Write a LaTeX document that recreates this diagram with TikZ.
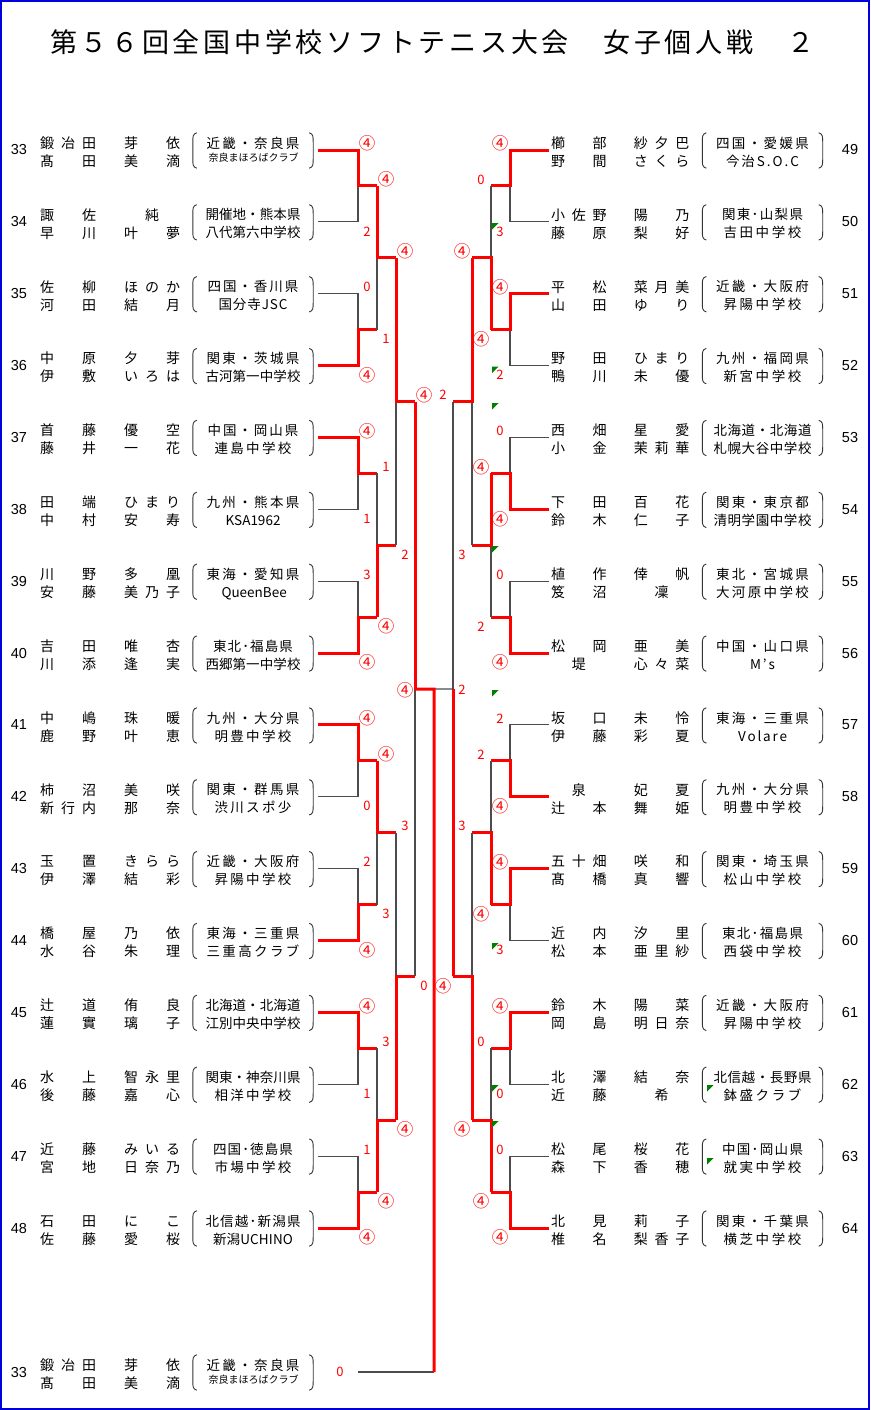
\documentclass[tikz,border=0pt]{standalone}
\usepackage{fontspec}
\setmainfont{Noto Sans CJK JP}
\newfontfamily\lat{Liberation Sans}
\usetikzlibrary{calc}
\newlength\cw
\def\cellsaux#1{\ifx\relax#1\else\ifx*#1\hbox to\cw{}\else\hbox to\cw{\hss#1\hss}\fi\expandafter\cellsaux\fi}
\newcommand\cellsL[1]{\setlength\cw{21pt}\cellsaux#1\relax}
\newcommand\cellsR[1]{\setlength\cw{20.7pt}\cellsaux#1\relax}
\def\Daux#1{\ifx\relax#1\else#1\expandafter\Dnext\fi}
\def\Dnext#1{\ifx\relax#1\else\hfil#1\expandafter\Dnext\fi}
\newcommand\D[2]{\makebox[#1pt][s]{\Daux#2\relax}}
\newcommand\four{{\fontsize{16.5}{16.5}\selectfont ④}}
\def\dxl{9}
\def\dxr{-10}
\newcommand\entryL[7]{%
  \node[num] (numL#1) at (19,#2) {#3};
  \node[nm] (nmL#1a) at (36.5,#2-1.7) {\cellsL{#4}};
  \node[nm] (nmL#1b) at (36.5,#2+16.3) {\cellsL{#5}};
  \node[affbox] (afL#1) at (253,#2+0.5) {};
  \node[af] (afL#1a) at (253,#2-1.9) {#6};
  \node[af] (afL#1b) at (253,#2+16.1) {#7};
  \draw[paren] ([xshift=4pt]afL#1.north west) .. controls ([yshift=-1pt]afL#1.north west) and ([yshift=-4pt]afL#1.north west) .. ([yshift=-9pt]afL#1.north west) -- ([yshift=9pt]afL#1.south west) .. controls ([yshift=4pt]afL#1.south west) and ([yshift=1pt]afL#1.south west) .. ([xshift=4pt]afL#1.south west);
  \draw[paren] ([xshift=-4pt]afL#1.north east) .. controls ([yshift=-1pt]afL#1.north east) and ([yshift=-4pt]afL#1.north east) .. ([yshift=-9pt]afL#1.north east) -- ([yshift=9pt]afL#1.south east) .. controls ([yshift=4pt]afL#1.south east) and ([yshift=1pt]afL#1.south east) .. ([xshift=-4pt]afL#1.south east);
}
\newcommand\entryR[7]{%
  \node[num] (numR#1) at (850,#2) {#3};
  \node[nm] (nmR#1a) at (547.6,#2-1.7) {\cellsR{#4}};
  \node[nm] (nmR#1b) at (547.6,#2+16.3) {\cellsR{#5}};
  \node[affbox] (afR#1) at (762.5,#2+0.5) {};
  \node[af] (afR#1a) at (762.5,#2-1.9) {#6};
  \node[af] (afR#1b) at (762.5,#2+16.1) {#7};
  \draw[paren] ([xshift=4pt]afR#1.north west) .. controls ([yshift=-1pt]afR#1.north west) and ([yshift=-4pt]afR#1.north west) .. ([yshift=-9pt]afR#1.north west) -- ([yshift=9pt]afR#1.south west) .. controls ([yshift=4pt]afR#1.south west) and ([yshift=1pt]afR#1.south west) .. ([xshift=4pt]afR#1.south west);
  \draw[paren] ([xshift=-4pt]afR#1.north east) .. controls ([yshift=-1pt]afR#1.north east) and ([yshift=-4pt]afR#1.north east) .. ([yshift=-9pt]afR#1.north east) -- ([yshift=9pt]afR#1.south east) .. controls ([yshift=4pt]afR#1.south east) and ([yshift=1pt]afR#1.south east) .. ([xshift=-4pt]afR#1.south east);
}
\newcommand\bmatch[6]{%
  \pgfmathtruncatemacro\prv{#2-1}%
  \pgfmathtruncatemacro\bmA{2*#3-1}%
  \pgfmathtruncatemacro\bmB{2*#3}%
  \ifnum#4=1\relax
    \draw[lose] (#1\prv o\bmB) -| (#1#2j#3);
    \draw[win] (#1\prv o\bmA) -| (#1#2j#3) -- (#1#2o#3);
  \else
    \draw[lose] (#1\prv o\bmA) -| (#1#2j#3);
    \draw[win] (#1\prv o\bmB) -| (#1#2j#3) -- (#1#2o#3);
  \fi
  \node[score] (s#1#2m#3a) at ($(#1\prv o\bmA -| #1#2j#3)+(\csname dx#1\endcsname,-6.5)$) {#5};
  \node[score] (s#1#2m#3b) at ($(#1\prv o\bmB -| #1#2j#3)+(\csname dx#1\endcsname,9.5)$) {#6};
}
\begin{document}
\begin{tikzpicture}[x=1pt,y=-1pt,
  win/.style={draw=red, line width=3pt},
  lose/.style={draw=black!70, line width=1.1pt},
  score/.style={text=red, inner sep=0pt, font=\fontsize{13}{13}\selectfont},
  num/.style={inner sep=0pt, font=\lat\fontsize{14.5}{14.5}\selectfont},
  nm/.style={inner sep=0pt, anchor=base west, font=\fontsize{14}{14}\selectfont},
  af/.style={inner sep=0pt, anchor=base, font=\fontsize{13.5}{13.5}\selectfont},
  affbox/.style={inner sep=0pt, minimum width=120pt, minimum height=35pt},
  paren/.style={draw=black!80, line width=0.9pt},
  flag/.style={fill={rgb,255:red,0;green,128;blue,0}}]
\useasboundingbox (0,0) rectangle (870,1410);
\fill[white] (0,0) rectangle (870,1410);
\draw[draw={rgb,255:red,0;green,0;blue,220}, line width=2pt] (1,1) rectangle (869,1409);

\node[anchor=base, inner sep=0pt, font=\fontsize{27}{27}\selectfont] (title) at (432.5,52.5) {\D{765}{第５６回全国中学校ソフトテニス大会　女子個人戦　２}};

% bracket coordinates
\foreach \ii in {1,...,16}{
  \pgfmathsetmacro\yy{150+71.867*(\ii-1)}
  \coordinate (l0o\ii) at (318,\yy);
  \coordinate (r0o\ii) at (549,\yy);
}
\foreach \rr in {1,2,3,4}{
  \pgfmathtruncatemacro\nmatch{16/2^\rr}
  \foreach \mm in {1,...,\nmatch}{
    \pgfmathsetmacro\yy{150+71.867*((\mm-1)*2^\rr+(2^\rr-1)/2)}
    \pgfmathsetmacro\xl{358+19*(\rr-1)}
    \pgfmathsetmacro\xr{510-19*(\rr-1)}
    \coordinate (l\rr j\mm) at (\xl,\yy);
    \coordinate (l\rr o\mm) at (\xl+19,\yy);
    \coordinate (r\rr j\mm) at (\xr,\yy);
    \coordinate (r\rr o\mm) at (\xr-19,\yy);
  }
}

% left bracket
\bmatch{l}{1}{1}{1}{\four}{2}
\bmatch{l}{1}{2}{2}{0}{\four}
\bmatch{l}{1}{3}{1}{\four}{1}
\bmatch{l}{1}{4}{2}{3}{\four}
\bmatch{l}{1}{5}{1}{\four}{0}
\bmatch{l}{1}{6}{2}{2}{\four}
\bmatch{l}{1}{7}{1}{\four}{1}
\bmatch{l}{1}{8}{2}{1}{\four}
\bmatch{l}{2}{1}{1}{\four}{1}
\bmatch{l}{2}{2}{2}{1}{\four}
\bmatch{l}{2}{3}{1}{\four}{3}
\bmatch{l}{2}{4}{2}{3}{\four}
\bmatch{l}{3}{1}{1}{\four}{2}
\bmatch{l}{3}{2}{2}{3}{\four}
% right bracket
\bmatch{r}{1}{1}{1}{\four}{3}
\bmatch{r}{1}{2}{1}{\four}{2}
\bmatch{r}{1}{3}{2}{0}{\four}
\bmatch{r}{1}{4}{2}{0}{\four}
\bmatch{r}{1}{5}{2}{2}{\four}
\bmatch{r}{1}{6}{1}{\four}{3}
\bmatch{r}{1}{7}{1}{\four}{0}
\bmatch{r}{1}{8}{2}{0}{\four}
\bmatch{r}{2}{1}{2}{0}{\four}
\bmatch{r}{2}{2}{1}{\four}{2}
\bmatch{r}{2}{3}{2}{2}{\four}
\bmatch{r}{2}{4}{2}{0}{\four}
\bmatch{r}{3}{1}{1}{\four}{3}
\bmatch{r}{3}{2}{2}{3}{\four}

% semifinal columns and final
\coordinate (fin) at (434,689);
\coordinate (finB) at (434,1372);
\coordinate (l0oB) at (358,1372);
\draw[lose] (l3o2) -- (l4j1);
\draw[win] (l3o1) -- (l4j1);
\draw[lose] (r3o1) -- (r4j1);
\draw[win] (r3o2) -- (r4j1);
\draw[lose] (r4j1) -- (fin);
\draw[lose] (l0oB) -- (finB);
\draw[win] (l4j1) -- (fin) -- (finB);
\node[score] (sl4a) at (424,395) {\four};
\node[score] (sl4b) at (424,986) {0};
\node[score] (sr4a) at (443,395) {2};
\node[score] (sr4b) at (443,986) {\four};
\node[score] (sfl) at (405,690) {\four};
\node[score] (sfr) at (462,690) {2};
\node[score] (sbot) at (340,1372) {0};

% green markers
\foreach \fx/\fy in {492/223,492/366.5,492/403,492/546,492/690,492/943,492/1085,492/1121,707/1085,707/1158}{
  \fill[flag] (\fx,\fy) -- ++(6.5,0) -- ++(-6.5,6.5) -- cycle;
}

% left entries
\entryL{33}{150}{33}{鍛冶田*芽*依}{髙*田*美*滴}{\D{93}{近畿・奈良県}}{\raisebox{4.3pt}{\fontsize{10}{10}\selectfont\D{89}{奈良まほろばクラブ}}}
\entryL{34}{221.87}{34}{諏*佐**純*}{早*川*叶*夢}{\D{95}{開催地・熊本県}}{\D{95}{八代第六中学校}}
\entryL{35}{293.73}{35}{佐*柳*ほのか}{河*田*結*月}{\D{91}{四国・香川県}}{\D{69}{国分寺JSC}}
\entryL{36}{365.6}{36}{中*原*夕*芽}{伊*敷*いろは}{\D{93}{関東・茨城県}}{\D{95}{古河第一中学校}}
\entryL{37}{437.47}{37}{首*藤*優*空}{藤*井*一*花}{\D{91}{中国・岡山県}}{\D{77}{連島中学校}}
\entryL{38}{509.33}{38}{田*端*ひまり}{中*村*安*寿}{\D{93}{九州・熊本県}}{\D{55}{KSA1962}}
\entryL{39}{581.2}{39}{川*野*多*凰}{安*藤*美乃子}{\D{93}{東海・愛知県}}{\D{63}{QueenBee}}
\entryL{40}{653.07}{40}{吉*田*唯*杏}{川*添*逢*実}{\D{80}{東北･福島県}}{\D{95}{西郷第一中学校}}
\entryL{41}{724.94}{41}{中*嶋*珠*暖}{鹿*野*叶*恵}{\D{93}{九州・大分県}}{\D{77}{明豊中学校}}
\entryL{42}{796.8}{42}{柿*沼*美*咲}{新行内*那*奈}{\D{93}{関東・群馬県}}{\D{77}{渋川スポ少}}
\entryL{43}{868.67}{43}{玉*置*きらら}{伊*澤*結*彩}{\D{93}{近畿・大阪府}}{\D{77}{昇陽中学校}}
\entryL{44}{940.54}{44}{橋*屋*乃*依}{水*谷*朱*理}{\D{93}{東海・三重県}}{\D{93}{三重高クラブ}}
\entryL{45}{1012.4}{45}{辻*道*侑*良}{蓮*實*璃*子}{\D{95}{北海道・北海道}}{\D{95}{江別中央中学校}}
\entryL{46}{1084.27}{46}{水*上*智永里}{後*藤*嘉*心}{\D{95}{関東・神奈川県}}{\D{77}{相洋中学校}}
\entryL{47}{1156.14}{47}{近*藤*みいる}{宮*地*日奈乃}{\D{80}{四国･徳島県}}{\D{77}{市場中学校}}
\entryL{48}{1228}{48}{石*田*に*こ}{佐*藤*愛*桜}{\D{95}{北信越･新潟県}}{\D{80}{新潟UCHINO}}
\entryL{B}{1372}{33}{鍛冶田*芽*依}{髙*田*美*滴}{\D{93}{近畿・奈良県}}{\raisebox{4.3pt}{\fontsize{10}{10}\selectfont\D{89}{奈良まほろばクラブ}}}

% right entries
\entryR{49}{150}{49}{櫛*部*紗夕巴}{野*間*さくら}{\D{93}{四国・愛媛県}}{\D{73}{今治S.O.C}}
\entryR{50}{221.87}{50}{小佐野*陽*乃}{藤*原*梨*好}{\D{81}{関東･山梨県}}{\D{78}{吉田中学校}}
\entryR{51}{293.73}{51}{平*松*菜月美}{山*田*ゆ*り}{\D{93}{近畿・大阪府}}{\D{78}{昇陽中学校}}
\entryR{52}{365.6}{52}{野*田*ひまり}{鴨*川*未*優}{\D{93}{九州・福岡県}}{\D{78}{新宮中学校}}
\entryR{53}{437.47}{53}{西*畑*星*愛}{小*金*茉莉華}{\D{98}{北海道・北海道}}{\D{98}{札幌大谷中学校}}
\entryR{54}{509.33}{54}{下*田*百*花}{鈴*木*仁*子}{\D{93}{関東・東京都}}{\D{98}{清明学園中学校}}
\entryR{55}{581.2}{55}{植*作*倖*帆}{笈*沼**凜*}{\D{93}{東北・宮城県}}{\D{93}{大河原中学校}}
\entryR{56}{653.07}{56}{松*岡*亜*美}{*堤**心々菜}{\D{93}{中国・山口県}}{\D{25}{M’s}}
\entryR{57}{724.94}{57}{坂*口*未*怜}{伊*藤*彩*夏}{\D{93}{東海・三重県}}{\D{49}{Volare}}
\entryR{58}{796.8}{58}{*泉**妃*夏}{辻*本*舞*姫}{\D{93}{九州・大分県}}{\D{78}{明豊中学校}}
\entryR{59}{868.67}{59}{五十畑*咲*和}{髙*橋*真*響}{\D{93}{関東・埼玉県}}{\D{78}{松山中学校}}
\entryR{60}{940.54}{60}{近*内*汐*里}{松*本*亜里紗}{\D{81}{東北･福島県}}{\D{78}{西袋中学校}}
\entryR{61}{1012.4}{61}{鈴*木*陽*菜}{岡*島*明日奈}{\D{93}{近畿・大阪府}}{\D{78}{昇陽中学校}}
\entryR{62}{1084.27}{62}{北*澤*結*奈}{近*藤**希*}{\D{98}{北信越・長野県}}{\D{78}{鉢盛クラブ}}
\entryR{63}{1156.14}{63}{松*尾*桜*花}{森*下*香*穂}{\D{81}{中国･岡山県}}{\D{78}{就実中学校}}
\entryR{64}{1228}{64}{北*見*莉*子}{椎*名*梨香子}{\D{93}{関東・千葉県}}{\D{78}{横芝中学校}}
\end{tikzpicture}
\end{document}
